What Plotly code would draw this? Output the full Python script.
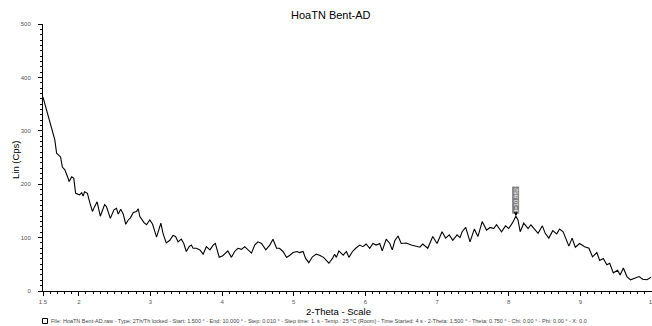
import plotly.graph_objects as go

two_theta = [1.50, 1.56, 1.60, 1.63, 1.665, 1.69, 1.72, 1.745, 1.77, 1.805, 1.84, 1.865, 1.90, 1.93, 1.955,
             2.01, 2.04, 2.06, 2.08, 2.12, 2.15, 2.19, 2.22, 2.255, 2.30, 2.36, 2.385, 2.44, 2.49, 2.525, 2.55,
             2.585, 2.62, 2.655, 2.69, 2.72, 2.76, 2.805, 2.83, 2.85, 2.91, 2.945, 2.99, 3.03, 3.085, 3.12,
             3.145, 3.175, 3.22, 3.27, 3.315, 3.35, 3.385, 3.43, 3.465, 3.50, 3.54, 3.57, 3.595, 3.64, 3.69,
             3.735, 3.78, 3.83, 3.875, 3.905, 3.96, 4.01, 4.08, 4.13, 4.175, 4.22, 4.27, 4.315, 4.36, 4.41,
             4.455, 4.50, 4.55, 4.61, 4.665, 4.71, 4.76, 4.80, 4.85, 4.90, 4.945, 4.99, 5.045, 5.08, 5.13,
             5.165, 5.21, 5.26, 5.315, 5.36, 5.415, 5.455, 5.49, 5.54, 5.57, 5.595, 5.63, 5.69, 5.735, 5.77,
             5.82, 5.865, 5.92, 5.965, 6.01, 6.06, 6.105, 6.15, 6.20, 6.235, 6.29, 6.34, 6.375, 6.41, 6.455,
             6.50, 6.57, 6.64, 6.71, 6.76, 6.80, 6.87, 6.94, 7.00, 7.07, 7.12, 7.17, 7.22, 7.28, 7.32, 7.35,
             7.40, 7.46, 7.52, 7.57, 7.63, 7.69, 7.74, 7.79, 7.83, 7.90, 7.955, 8.00, 8.05, 8.10, 8.13, 8.16,
             8.21, 8.27, 8.31, 8.36, 8.41, 8.47, 8.51, 8.56, 8.615, 8.67, 8.71, 8.76, 8.79, 8.84, 8.885, 8.93,
             8.99, 9.06, 9.12, 9.17, 9.23, 9.27, 9.32, 9.37, 9.41, 9.46, 9.52, 9.555, 9.60, 9.65, 9.70, 9.76,
             9.82, 9.87, 9.93, 9.99]
counts = [363, 333, 314, 303, 283, 258, 253, 251, 232, 227, 215, 205, 214, 211, 183,
          180, 184, 178, 186, 183, 167, 149, 158, 167, 140, 162, 158, 136, 152, 155, 144,
          153, 144, 125, 133, 137, 147, 149, 154, 140, 128, 124, 133, 125, 101, 117,
          127, 108, 90, 95, 104, 102, 92, 97, 89, 74, 83, 86, 80, 80, 77,
          69, 83, 77, 86, 89, 63, 66, 75, 63, 74, 80, 78, 83, 78, 71,
          86, 92, 89, 77, 86, 97, 80, 80, 74, 63, 67, 72, 74, 72, 74,
          61, 53, 64, 69, 67, 63, 58, 52, 61, 69, 63, 75, 67, 74, 63,
          74, 80, 86, 83, 88, 80, 89, 86, 89, 75, 97, 89, 77, 94, 103,
          89, 90, 86, 83, 82, 88, 80, 102, 89, 111, 99, 105, 95, 105, 100, 111,
          119, 92, 116, 102, 130, 114, 119, 117, 124, 111, 122, 117, 127, 140, 133, 111,
          127, 117, 124, 116, 108, 122, 108, 99, 113, 107, 116, 111, 102, 84, 99, 82,
          89, 83, 80, 64, 72, 57, 61, 49, 52, 34, 39, 30, 43, 27, 21, 24,
          27, 22, 21, 26]

x_ticks = [1.5, 2, 3, 4, 5, 6, 7, 8, 9, 10]
x_tick_text = ["1.5", "2", "3", "4", "5", "6", "7", "8", "9", "10"]
y_ticks = [0, 100, 200, 300, 400, 500]

peak_x = 8.10
peak_y = 140
peak_label = "d=10.882"

title = "HoaTN Bent-AD"
x_title = "2-Theta - Scale"
y_title = "Lin (Cps)"
footnote = ("File: HoaTN Bent-AD.raw - Type: 2Th/Th locked - Start: 1.500 ° - End: 10.000 ° - "
            "Step: 0.010 ° - Step time: 1. s - Temp.: 25 °C (Room) - Time Started: 4 s - "
            "2-Theta: 1.500 ° - Theta: 0.750 ° - Chi: 0.00 ° - Phi: 0.00 ° - X: 0.0")

FONT = "Liberation Sans, Arial, sans-serif"
W, H = 652, 326
ML, MR, MT, MB = 43, 0, 24, 35
PW, PH = W - ML - MR, H - MT - MB


def px(xp):
    return (xp - ML) / PW


def py(yp):
    return (H - MB - yp) / PH


fig = go.Figure()
fig.add_trace(go.Scatter(x=two_theta, y=counts, mode="lines",
                         line=dict(color="black", width=1.1), hoverinfo="x+y",
                         showlegend=False))

fig.add_annotation(x=peak_x, y=peak_y, xref="x", yref="y", text=peak_label,
                   textangle=-90, showarrow=True, ax=0, ay=-16, arrowhead=2,
                   arrowsize=0.8, arrowwidth=1, arrowcolor="black",
                   bgcolor="#7f7f7f", borderpad=0,
                   font=dict(family=FONT, size=6, color="white"))

fig.add_annotation(x=px(331), y=py(15), xref="paper", yref="paper", text=title,
                   showarrow=False, font=dict(family=FONT, size=11, color="black"),
                   xanchor="center", yanchor="middle")

fig.update_layout(
    width=W, height=H,
    margin=dict(l=ML, r=MR, t=MT, b=MB),
    paper_bgcolor="white", plot_bgcolor="white",
    font=dict(family=FONT, color="#555555"),
    xaxis=dict(range=[1.5, 10], tickvals=x_ticks, ticktext=x_tick_text, automargin=False,
               showgrid=False, zeroline=False, showline=True, linecolor="black",
               linewidth=1, ticks="outside", ticklen=4, tickcolor="black",
               ticklabelstandoff=1, ticklabeloverflow="allow",
               tickfont=dict(family=FONT, size=6, color="#555555"),
               minor=dict(dtick=0.1, tick0=1.5, ticks="outside", ticklen=2,
                          tickcolor="black", showgrid=False)),
    yaxis=dict(range=[0, 500], tickvals=y_ticks, automargin=False,
               showgrid=False, zeroline=False, showline=True, linecolor="black",
               linewidth=1, ticks="outside", ticklen=4, tickcolor="black",
               ticklabelstandoff=6,
               tickfont=dict(family=FONT, size=6, color="#555555"),
               minor=dict(dtick=10, ticks="outside", ticklen=2,
                          tickcolor="black", showgrid=False)),
)

fig.add_annotation(x=px(338), y=py(311), xref="paper", yref="paper", text=x_title,
                   showarrow=False, font=dict(family=FONT, size=9.5, color="black"),
                   xanchor="center", yanchor="middle")
fig.add_annotation(x=px(15), y=py(160), xref="paper", yref="paper", text=y_title,
                   textangle=-90, showarrow=False,
                   font=dict(family=FONT, size=9.5, color="black"),
                   xanchor="center", yanchor="middle")
fig.add_annotation(x=px(49), y=py(321), xref="paper", yref="paper", text=footnote,
                   showarrow=False, font=dict(family=FONT, size=5.5, color="#444444"),
                   xanchor="left", yanchor="middle")
fig.add_shape(type="rect", xref="paper", yref="paper",
              x0=px(42.5), x1=px(47.5), y0=py(323.5), y1=py(318.5),
              line=dict(color="black", width=1), fillcolor="white")

fig.write_html("out.html", config={"displayModeBar": False},
               post_script="document.body.style.margin='0';document.body.style.padding='0';"
                           "document.body.style.overflow='hidden';")
